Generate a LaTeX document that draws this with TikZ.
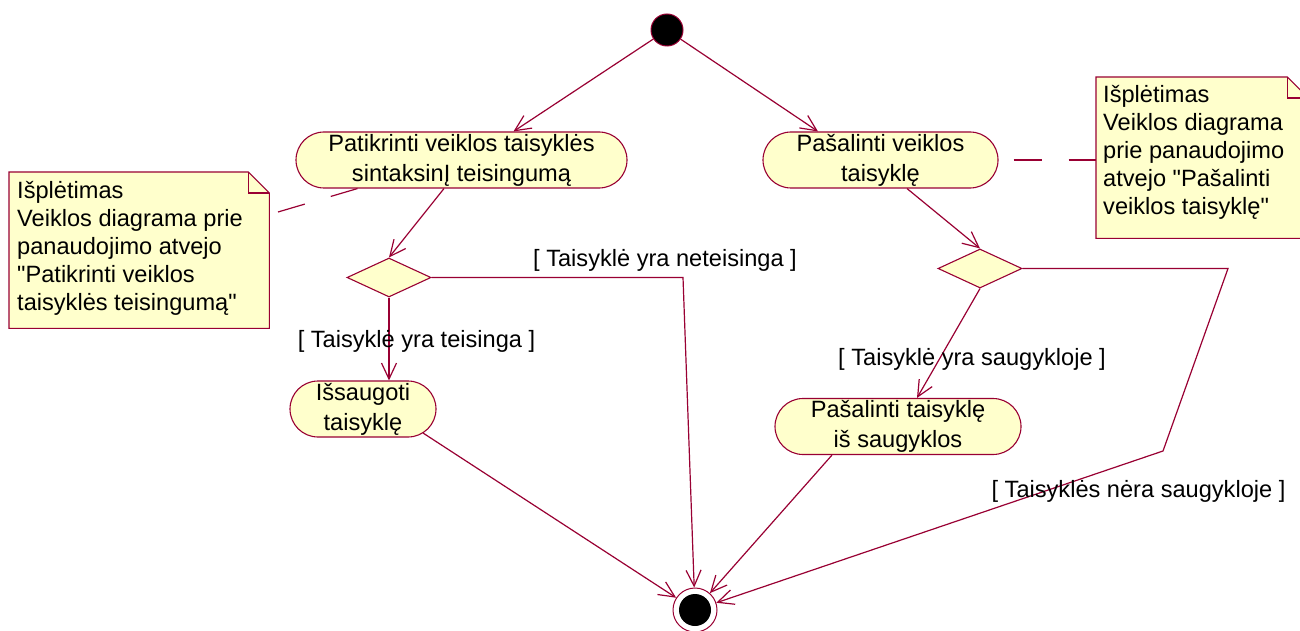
\documentclass[tikz,border=0pt]{standalone}
\usepackage{fontspec}
\setmainfont{Liberation Sans}[Ligatures=TeXOff]
\usetikzlibrary{shapes.misc,shapes.geometric,arrows.meta,calc}
\definecolor{umlline}{RGB}{153,0,51}
\definecolor{umlfill}{RGB}{255,255,204}

\begin{document}
\begin{tikzpicture}[x=1pt,y=-1pt,
  every node/.style={font=\fontsize{23.6}{28}\selectfont},
  activity/.style={rounded rectangle, draw=umlline, fill=umlfill, line width=1.1pt,
    inner sep=0pt, minimum height=56pt, align=center, font=\fontsize{23.6}{30}\selectfont},
  decision/.style={diamond, draw=umlline, fill=umlfill, line width=1.1pt,
    inner sep=0pt, minimum width=84pt, minimum height=39pt},
  flow/.style={draw=umlline, line width=1.2pt, -{Straight Barb[length=16pt,width=15pt]}},
  notebox/.style={draw=umlline, fill=umlfill, line width=1.1pt, line join=miter},
  anchorline/.style={draw=umlline, line width=1.2pt, dash pattern=on 28pt off 27pt},
  guard/.style={inner sep=0pt, anchor=base},
  notetext/.style={anchor=north west, align=left, inner sep=0pt},
]
% canvas
\path[use as bounding box, fill=white] (0,0) rectangle (1300,631);
\clip (0,0) rectangle (1300,631);

% initial and final states
\node[circle, fill=black, draw=umlline, line width=1pt, minimum size=32pt, inner sep=0pt] (start) at (667,30) {};
\node[circle, draw=umlline, fill=white, line width=1pt, minimum size=44pt, inner sep=0pt,
  path picture={\fill[black] (path picture bounding box.center) circle[radius=16pt];}] (end) at (695,610) {};

% activities
\node[activity, minimum width=331pt] (check) at (461.5,160) {Patikrinti veiklos taisyklės\\sintaksinĮ teisingumą};
\node[activity, minimum width=235pt] (remove) at (880.5,160) {Pašalinti veiklos\\taisyklę};
\node[activity, minimum width=146pt] (save) at (363,409) {Išsaugoti\\taisyklę};
\node[activity, minimum width=246pt] (drop) at (898,426.5) {Pašalinti taisyklę\\iš saugyklos};

% decisions
\node[decision] (d1) at (389,277.5) {};
\node[decision] (d2) at (980,268.5) {};

% notes
\node[anchor=north west, minimum width=260pt, minimum height=156pt, inner sep=0pt] (note1) at (9,172) {};
\path[notebox] (note1.north west) -- ([xshift=-21pt]note1.north east) -- ([yshift=-21pt]note1.north east)
  -- (note1.south east) -- (note1.south west) -- cycle;
\draw[notebox, fill=none] ([xshift=-21pt]note1.north east) -- ([xshift=-21pt,yshift=-21pt]note1.north east)
  -- ([yshift=-21pt]note1.north east);
\node[notetext] (note1text) at (17,181) {Išplėtimas\\Veiklos diagrama prie\\panaudojimo atvejo\\"Patikrinti veiklos\\taisyklės teisingumą"};

\node[anchor=north west, minimum width=212pt, minimum height=161pt, inner sep=0pt] (note2) at (1096,77) {};
\path[notebox] (note2.north west) -- ([xshift=-21pt]note2.north east) -- ([yshift=-21pt]note2.north east)
  -- (note2.south east) -- (note2.south west) -- cycle;
\draw[notebox, fill=none] ([xshift=-21pt]note2.north east) -- ([xshift=-21pt,yshift=-21pt]note2.north east)
  -- ([yshift=-21pt]note2.north east);
\node[notetext] (note2text) at (1103,85) {Išplėtimas\\Veiklos diagrama\\prie panaudojimo\\atvejo "Pašalinti\\veiklos taisyklę"};

% note anchors
\coordinate (a1) at (278,212);
\draw[anchorline] (a1) -- ([xshift=-104pt]check.south);
\draw[anchorline] ([xshift=15pt]remove.east) -- (note2.west |- remove.east);

% control flows
\draw[flow] (start) -- ([xshift=52pt]check.north);
\draw[flow] (start) -- ([xshift=-62.5pt]remove.north);
\draw[flow] ([xshift=-17.5pt]check.south) -- (d1.north);
\draw[flow] ([xshift=26.5pt]remove.south) -- (d2.north);
\draw[flow] (d1.south) -- (d1.south |- save.north);
\coordinate (k1) at (683,277.5);
\draw[flow] (d1.east) -- (k1) -- (end);
\draw[flow] ($(save.center)+(60,24)$) -- (end);
\draw[flow] (d2.south) -- ([xshift=19pt]drop.north);
\coordinate (k2) at (1228,268.5);
\coordinate (k3) at (1163,451);
\draw[flow] (d2.east) -- (k2) -- (k3) -- (end);
\draw[flow] ([xshift=-66pt]drop.south) -- (end);

% guards
\node[guard] (g1) at (416.5,347) {[ Taisyklė yra teisinga ]};
\node[guard] (g2) at (665,266) {[ Taisyklė yra neteisinga ]};
\node[guard] (g3) at (972,365) {[ Taisyklė yra saugykloje ]};
\node[guard] (g4) at (1138.5,497) {[ Taisyklės nėra saugykloje ]};
\end{tikzpicture}
\end{document}
